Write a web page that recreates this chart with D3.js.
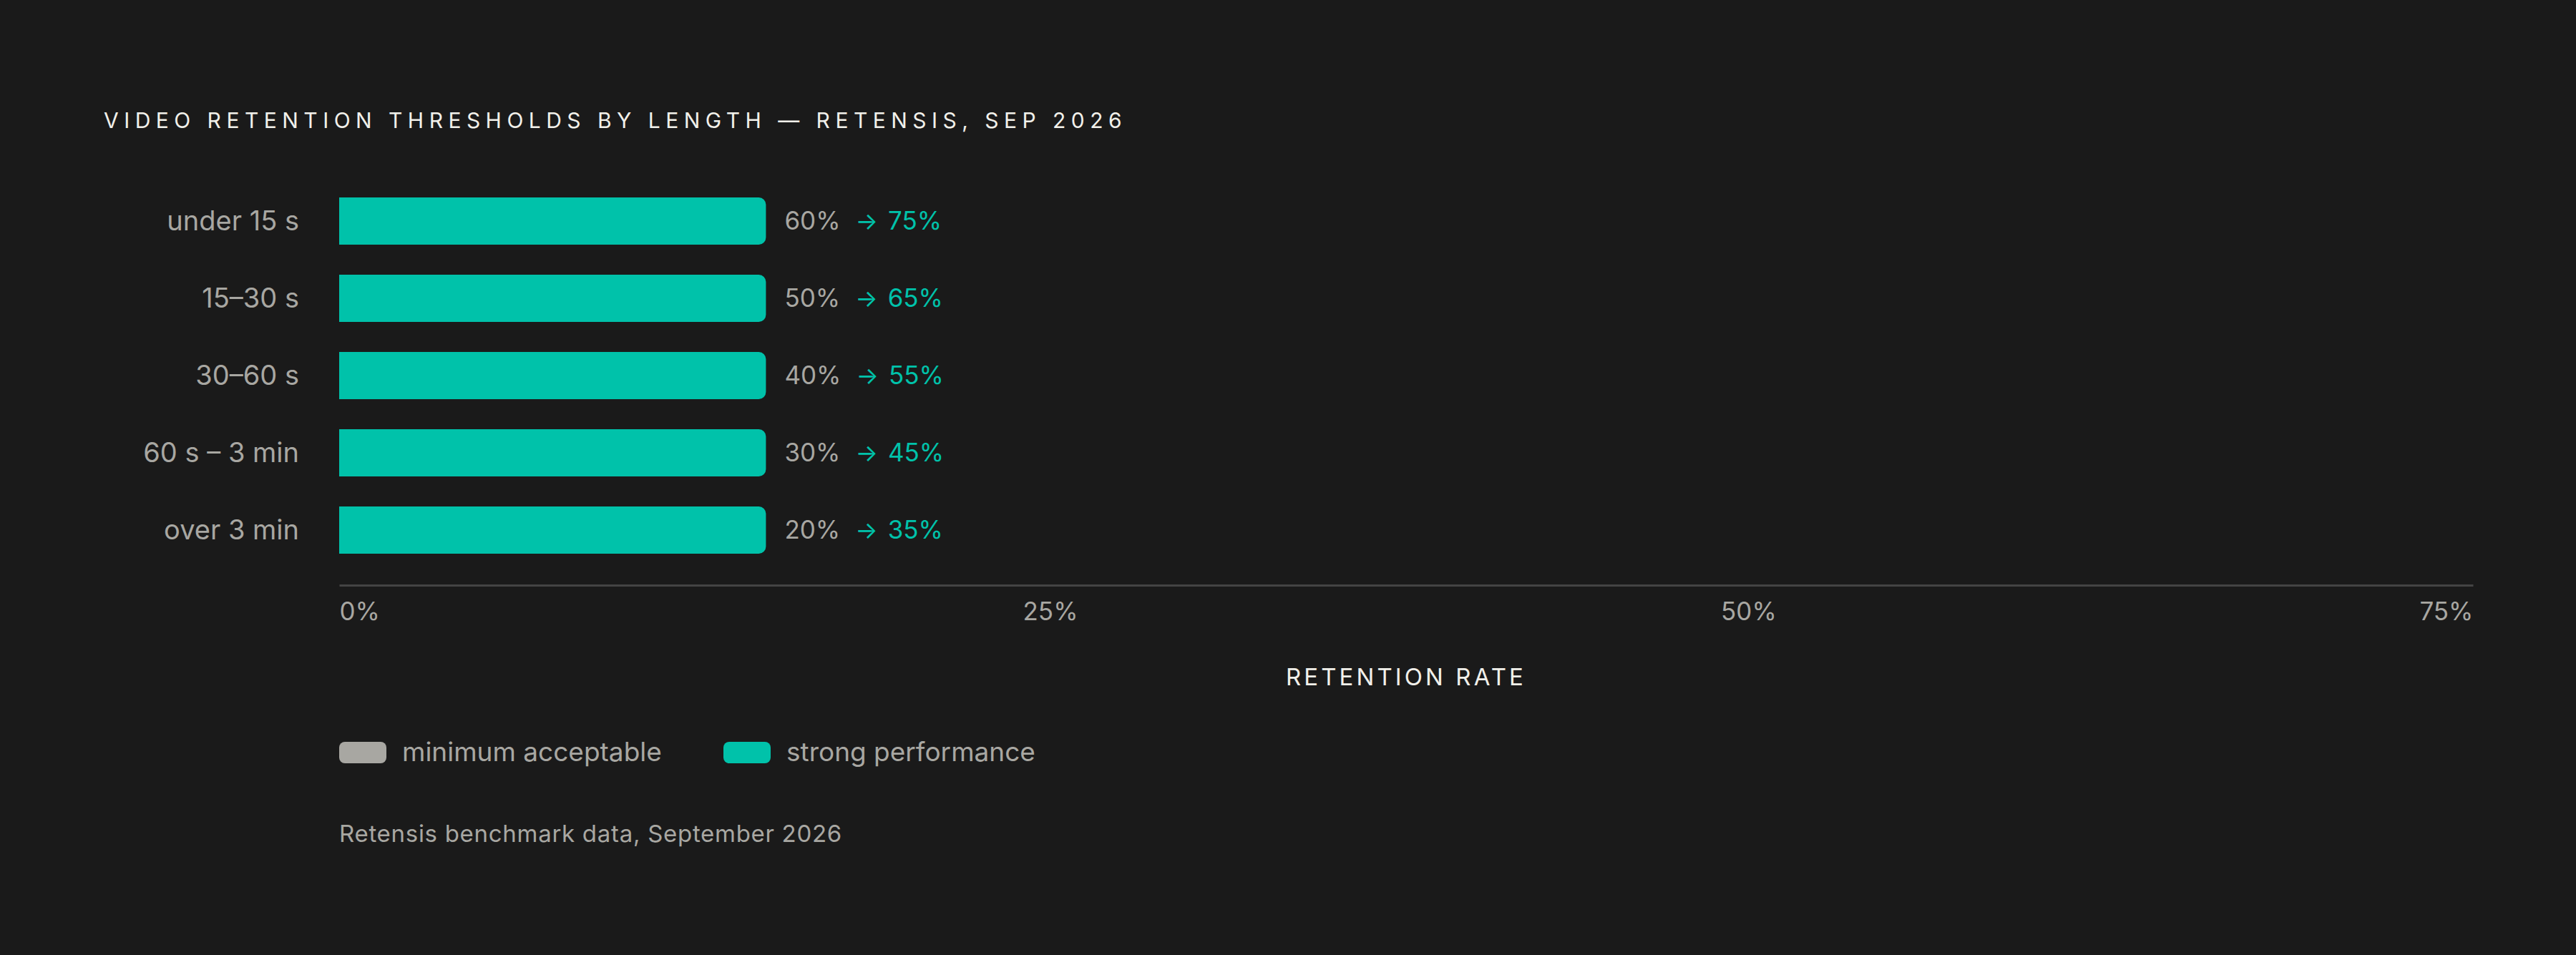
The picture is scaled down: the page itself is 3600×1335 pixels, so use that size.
<!DOCTYPE html>
<html>
<head>
<meta charset="utf-8">
<script src="https://cdn.jsdelivr.net/npm/d3@7"></script>
<style>
  html, body { margin: 0; padding: 0; background: #1a1a1a; }
  svg { display: block; font-family: Inter, "DejaVu Sans", sans-serif; }
</style>
</head>
<body>
<svg id="chart" width="3600" height="1335"></svg>
<script>
// data
let categories = ["under 15 s", "15–30 s", "30–60 s", "60 s – 3 min", "over 3 min"];
let minimumValues = [60, 50, 40, 30, 20];
let strongValues = [75, 65, 55, 45, 35];
let xTicks = [0, 25, 50, 75];
let seriesNames = ["minimum acceptable", "strong performance"];

const teal = "#00c2aa";
const grey = "#a8a7a2";
const textGrey = "#a8a7a2";
const white = "#f1f0ea";

let svg = d3.select("#chart");
svg.append("rect").attr("width", 3600).attr("height", 1335).attr("fill", "#1a1a1a");

let rows = categories.map((c, i) => ({name: c, min: minimumValues[i], strong: strongValues[i]}));

// scales
let x = d3.scaleLinear().domain([0, 75]).range([474, 3456]);
let y = d3.scaleBand()
  .domain(categories)
  .range([255, 795])
  .paddingInner(0.39)
  .paddingOuter(0.195);

// stretch a text's letter spacing so it covers a given width
function fitSpacing(sel, width){
  let node = sel.node();
  let n = node.getNumberOfChars();
  let w = node.getComputedTextLength();
  sel.attr("letter-spacing", (width - w) / n);
}

// title
let title = svg.append("text")
  .attr("x", 145).attr("y", 179)
  .attr("fill", white)
  .attr("font-size", 30)
  .text("VIDEO RETENTION THRESHOLDS BY LENGTH — RETENSIS, SEP 2026");
fitSpacing(title, 1430);

// bars: right side rounded only
function barPath(x0, x1, y0, h, r){
  return `M${x0},${y0}H${x1 - r}A${r},${r} 0 0 1 ${x1},${y0 + r}V${y0 + h - r}A${r},${r} 0 0 1 ${x1 - r},${y0 + h}H${x0}Z`;
}

svg.selectAll(".bar")
  .data(rows)
  .join("path")
  .attr("class", "bar")
  .attr("fill", teal)
  .attr("d", d => barPath(x(0), x(d.strong - d.min), y(d.name), y.bandwidth(), 10));

// category labels
svg.selectAll(".cat")
  .data(rows)
  .join("text")
  .attr("class", "cat")
  .attr("x", x(0) - 56)
  .attr("y", d => y(d.name) + y.bandwidth() / 2 + 13)
  .attr("text-anchor", "end")
  .attr("fill", textGrey)
  .attr("font-size", 38)
  .text(d => d.name);

// value labels  "60%  → 75%"
let vals = svg.selectAll(".val")
  .data(rows)
  .join("text")
  .attr("class", "val")
  .attr("x", d => x(d.strong - d.min) + 26)
  .attr("y", d => y(d.name) + y.bandwidth() / 2 + 12)
  .attr("fill", textGrey)
  .attr("font-size", 35);
vals.append("tspan").text(d => d.min + "%");
vals.append("tspan")
  .attr("dx", 21)
  .attr("fill", teal)
  .attr("font-size", 33)
  .text("→");
vals.append("tspan")
  .attr("dx", 14)
  .attr("fill", teal)
  .text(d => d.strong + "%");

// x axis
let axis = svg.append("g")
  .attr("transform", "translate(0,818)")
  .call(d3.axisBottom(x).tickValues(xTicks).tickSize(0).tickPadding(49).tickFormat(d => d + "%"));
axis.attr("font-family", null);
axis.select(".domain").attr("stroke", "#444").attr("stroke-width", 3);
let tickText = axis.selectAll(".tick text")
  .attr("fill", textGrey)
  .attr("font-size", 35)
  .attr("dy", 0)
  .attr("text-anchor", "start");

// labels sit spread edge to edge with equal gaps between them
let widths = tickText.nodes().map(n => n.getComputedTextLength());
let gap = (x(75) - x(0) - d3.sum(widths)) / (widths.length - 1);
tickText.attr("x", (d, i) => x(0) + d3.sum(widths.slice(0, i)) + gap * i - x(d));

let axisTitle = svg.append("text")
  .attr("x", (x(0) + x(75)) / 2)
  .attr("y", 958)
  .attr("text-anchor", "middle")
  .attr("fill", white)
  .attr("font-size", 33)
  .text("RETENTION RATE");
fitSpacing(axisTitle, 336);

// legend
let legendX = [474, 1011];
let legend = svg.selectAll(".legend")
  .data(seriesNames)
  .join("g")
  .attr("class", "legend")
  .attr("transform", (d, i) => `translate(${legendX[i]},1037)`);
legend.append("rect")
  .attr("width", 66).attr("height", 30).attr("rx", 8)
  .attr("fill", (d, i) => i === 0 ? grey : teal);
legend.append("text")
  .attr("x", 88).attr("y", 27)
  .attr("fill", textGrey)
  .attr("font-size", 37)
  .text(d => d);

// footnote
let foot = svg.append("text")
  .attr("x", 474).attr("y", 1177)
  .attr("fill", textGrey)
  .attr("font-size", 33)
  .text("Retensis benchmark data, September 2026");
fitSpacing(foot, 703);
</script>
</body>
</html>
